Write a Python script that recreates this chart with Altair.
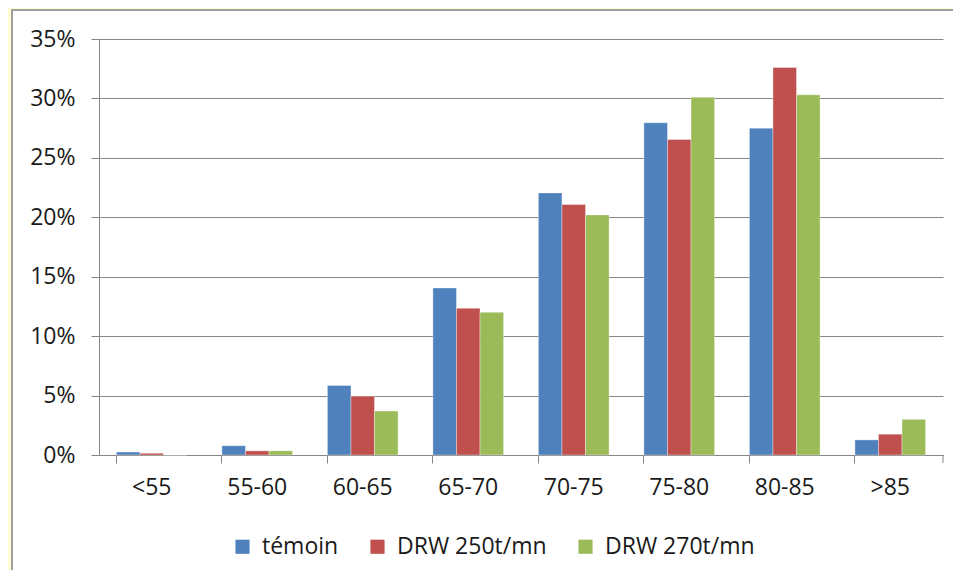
import altair as alt
import pandas as pd

categories = ["<55", "55-60", "60-65", "65-70", "70-75", "75-80", "80-85", ">85"]
series_names = ["témoin", "DRW 250t/mn", "DRW 270t/mn"]
temoin = [0.25, 0.78, 5.85, 14.05, 22.05, 27.95, 27.5, 1.27]
drw250 = [0.15, 0.35, 4.95, 12.35, 21.07, 26.55, 32.6, 1.75]
drw270 = [0.0, 0.35, 3.7, 12.0, 20.2, 30.1, 30.3, 3.0]
colors = ["#4F81BD", "#C0504D", "#9BBB59"]

rows = []
for name, vals in zip(series_names, [temoin, drw250, drw270]):
    for c, v in zip(categories, vals):
        rows.append({"cat": c, "series": name, "value": v / 100.0})
df = pd.DataFrame(rows)

W, H = 844, 416
FONT = "Open Sans"
FS = 23
TXT = "#1a1a1a"
YELLOW = "#FFFDD2"
BORDER = "#A0A0A0"

one = pd.DataFrame({"k": [0]})
left_strip = alt.Chart(one).mark_rect(fill=YELLOW).encode(
    x=alt.value(-100), x2=alt.value(-88), y=alt.value(-40), y2=alt.value(600)
)
top_strip = alt.Chart(one).mark_rect(fill=YELLOW).encode(
    x=alt.value(-100), x2=alt.value(900), y=alt.value(-40), y2=alt.value(-30)
)
left_border = alt.Chart(one).mark_rule(color=BORDER, strokeWidth=2).encode(
    x=alt.value(-87), y=alt.value(-30), y2=alt.value(600)
)
top_border = alt.Chart(one).mark_rule(color=BORDER, strokeWidth=2).encode(
    x=alt.value(-88), x2=alt.value(900), y=alt.value(-29)
)

bars = alt.Chart(df).mark_bar(
    stroke="white", strokeWidth=0.6, strokeOpacity=0.6
).encode(
    x=alt.X("cat:N", sort=categories, title=None,
            scale=alt.Scale(paddingInner=0.33, paddingOuter=0.165),
            axis=alt.Axis(labelAngle=0, bandPosition=0, tickSize=8,
                          labelPadding=13, labelFontSize=FS, labelFont=FONT,
                          labelColor=TXT, domainColor="#868686",
                          tickColor="#868686", grid=False, labelBound=False)),
    xOffset=alt.XOffset("series:N", sort=series_names),
    y=alt.Y("value:Q", title=None,
            scale=alt.Scale(domain=[0, 0.35], nice=False),
            axis=alt.Axis(values=[0, 0.05, 0.1, 0.15, 0.2, 0.25, 0.3, 0.35],
                          format=".0%", tickSize=8, labelPadding=16,
                          labelFontSize=FS, labelFont=FONT, labelColor=TXT,
                          domainColor="#868686", tickColor="#868686",
                          gridColor="#868686", gridWidth=1.2)),
    color=alt.Color("series:N", sort=series_names,
                    scale=alt.Scale(domain=series_names, range=colors),
                    legend=alt.Legend(title=None, orient="none", direction="horizontal",
                                      legendX=132, legendY=496,
                                      symbolType="square", symbolSize=200,
                                      symbolStrokeWidth=0,
                                      labelFontSize=FS, labelFont=FONT,
                                      labelColor=TXT, columnPadding=27,
                                      labelOffset=8)),
)

end_tick = alt.Chart(one).mark_rule(color="#868686").encode(
    x=alt.value(W), y=alt.value(H), y2=alt.value(H + 8)
)

chart = alt.layer(left_strip, top_strip, left_border, top_border, bars, end_tick).properties(
    width=W, height=H,
    background="white",
    padding={"left": 91, "top": 31, "right": 10, "bottom": 115},
    autosize=alt.AutoSizeParams(type="none"),
).configure_view(stroke=None)

chart.save("out.html", embed_options={"renderer": "svg", "actions": False})
